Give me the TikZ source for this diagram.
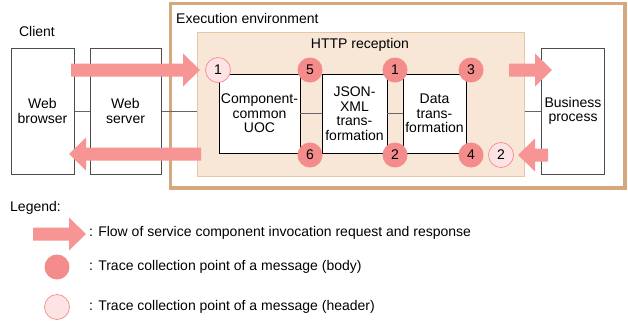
\documentclass[tikz,border=0pt]{standalone}
\usepackage{xcolor}
\usepackage{fontspec}
\setmainfont{Liberation Sans}
\usepackage{tikz}
\usetikzlibrary{positioning,calc}
\definecolor{FlowPink}{HTML}{F79494}
\definecolor{BodyPink}{HTML}{F48C8C}
\definecolor{HeadPink}{HTML}{FDE3E3}
\definecolor{EnvTan}{HTML}{D6A87E}
\definecolor{RecvFill}{HTML}{F8E7D7}
\definecolor{RecvLine}{HTML}{E6C7A6}
\tikzset{
  tr/frame/.style={draw=EnvTan, line width=3.2pt, fill=white},
  tr/area/.style={draw=RecvLine, line width=1pt, fill=RecvFill},
  tr/outer/.style={draw=black!70, line width=1pt, fill=white, align=center, minimum width=63pt, minimum height=126pt, inner sep=0pt},
  tr/box/.style={draw=black, line width=0.9pt, fill=white, align=center, minimum height=79pt, inner sep=0pt},
  tr/line/.style={draw=black!60, line width=1pt},
  tr/body/.style={circle, fill=BodyPink, minimum size=25pt, inner sep=0pt},
  tr/header/.style={circle, draw=BodyPink, line width=0.7pt, fill=HeadPink, minimum size=25pt, inner sep=0pt},
  tr/flow/.style={fill=FlowPink},
  tr/label/.style={inner sep=0pt, align=left}
}
% fat flow arrow: tail x, tip x, centre y
\newcommand{\flowarrow}[3]{%
  \pgfmathsetmacro{\flowhb}{#2-17*sign(#2-#1)}
  \fill[tr/flow] (#1,#3-6.5) -- (\flowhb,#3-6.5) -- (\flowhb,#3-16.5) -- (#2,#3)
    -- (\flowhb,#3+16.5) -- (\flowhb,#3+6.5) -- (#1,#3+6.5) -- cycle;}

\begin{document}
\begin{tikzpicture}[x=1pt, y=-1pt, font=\fontsize{14}{14.5}\selectfont]
  \useasboundingbox (0,0) rectangle (628,324);
  % execution environment and HTTP reception
  \draw[tr/frame] (170.5,3.5) rectangle (625,188);
  \node[tr/label, anchor=west] (envlbl) at (176,18) {Execution environment};
  \node[tr/area, minimum width=327pt, minimum height=144pt, inner sep=0pt] (recv) at (360.5,104) {};
  \node[tr/label] (recvlbl) at (360,45) {HTTP reception};
  % client side
  \node[tr/label] (client) at (37,31) {Client};
  \node[tr/outer] (browser) at (42.5,111) {Web\\browser};
  \node[tr/outer, minimum width=71pt] (server) at (125.5,111) {Web\\server};
  \node[tr/outer] (bp) at (573,111) {Business\\process};
  % processing steps
  \node[tr/box, minimum width=81pt] (uoc) at (259.5,113.5) {Component-\\common\\UOC};
  \node[tr/box, minimum width=65pt] (json) at (354.5,113.5) {JSON-\\XML\\trans-\\formation};
  \node[tr/box, minimum width=63pt] (data) at (434.5,113.5) {Data\\trans-\\formation};
  \draw[tr/line] (browser) -- (server);
  \draw[tr/line] (server) -- (server -| recv.west);
  \draw[tr/line] (uoc) -- (json);
  \draw[tr/line] (json) -- (data);
  \draw[tr/line] (recv.east |- bp) -- (bp);
  % request and response flows
  \flowarrow{71}{200}{70}
  \flowarrow{201}{69}{154}
  \flowarrow{509}{552}{70}
  \flowarrow{548}{518}{155}
  % trace points
  \node[tr/header] (h1) at (218,70) {1};
  \node[tr/body] (b5) at (310,70) {5};
  \node[tr/body] (b6) at (310,155) {6};
  \node[tr/body] (b1) at (395,70) {1};
  \node[tr/body] (b2) at (395,155) {2};
  \node[tr/body] (b3) at (471,70) {3};
  \node[tr/body] (b4) at (471,155) {4};
  \node[tr/header] (h2) at (501,155) {2};
  % legend
  \node[tr/label, anchor=west] (legend) at (10,208) {Legend:};
  \flowarrow{33}{86}{234}
  \node[tr/label, anchor=west] (lflow) at (89,233) {: Flow of service component invocation request and response};
  \node[tr/body] (lbody) at (57,267) {};
  \node[tr/label, anchor=west] (lbodytxt) at (89,267) {: Trace collection point of a message (body)};
  \node[tr/header] (lhead) at (57,307) {};
  \node[tr/label, anchor=west] (lheadtxt) at (89,307) {: Trace collection point of a message (header)};
\end{tikzpicture}
\end{document}
